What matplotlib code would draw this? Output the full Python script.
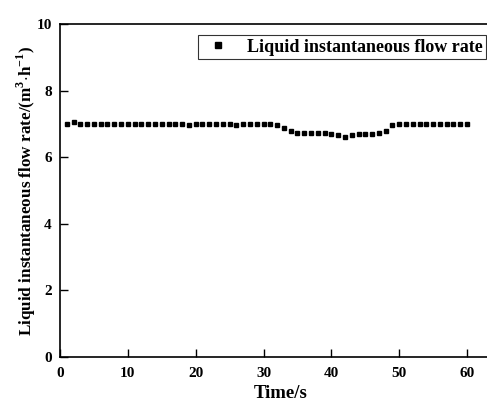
import matplotlib
matplotlib.use("Agg")
import matplotlib.pyplot as plt

# data
time_s = list(range(1, 61))
flow_rate = [7.00, 7.05, 7.00, 7.00, 7.00, 7.00, 7.00, 7.00, 7.00, 7.00,
             7.00, 7.00, 7.00, 7.00, 7.00, 7.00, 7.00, 7.00, 6.96, 7.00,
             7.00, 7.00, 7.00, 7.00, 7.00, 6.97, 7.00, 7.00, 7.00, 7.00,
             7.00, 6.98, 6.87, 6.80, 6.72, 6.72, 6.72, 6.72, 6.72, 6.71,
             6.68, 6.62, 6.68, 6.70, 6.70, 6.71, 6.72, 6.80, 6.97, 7.00,
             7.00, 7.00, 7.00, 7.00, 7.00, 7.00, 7.00, 7.00, 7.00, 7.00]
x_ticks = [0, 10, 20, 30, 40, 50, 60]
y_ticks = [0, 2, 4, 6, 8, 10]

plt.rcParams['font.family'] = ['Liberation Serif', 'DejaVu Serif']
plt.rcParams['font.weight'] = 'bold'
plt.rcParams['mathtext.fontset'] = 'custom'
plt.rcParams['mathtext.rm'] = 'Liberation Serif:bold'
plt.rcParams['mathtext.bf'] = 'Liberation Serif:bold'

fig = plt.figure(figsize=(4.87, 4.03), dpi=100)
ax = fig.add_axes([0.1232, 0.1141, 0.9055, 0.8263])

ax.plot(time_s, flow_rate, 's', color='black', markersize=3.1,
        label='Liquid instantaneous flow rate')

ax.set_xlim(0, 65)
ax.set_ylim(0, 10)
ax.set_xticks(x_ticks)
ax.set_yticks(y_ticks)
ax.tick_params(direction='in', length=6, width=1, labelsize=11)
ax.tick_params(axis='x', pad=7)
ax.tick_params(axis='y', pad=6)
for label in ax.get_xticklabels() + ax.get_yticklabels():
    label.set_fontweight('bold')
for s in ax.spines.values():
    s.set_linewidth(1.2)

ax.set_xlabel('Time/s', fontsize=13.5, fontweight='bold', labelpad=3.5)
ax.set_ylabel(r'Liquid instantaneous flow rate/(m$^{3}$$\cdot$h$^{-1}$)',
              fontsize=12.3, fontweight='bold', labelpad=-1)

# legend box runs past the right edge in the original; keep text inside
leg = ax.legend(loc='upper left', bbox_to_anchor=(0.313, 0.967), fontsize=13,
                frameon=True, fancybox=False, edgecolor='black',
                borderaxespad=0, handlelength=1.82, handletextpad=0.7,
                borderpad=0.2, markerscale=1.2)
leg.get_frame().set_linewidth(0.8)

plt.savefig('out.png', dpi=100)
